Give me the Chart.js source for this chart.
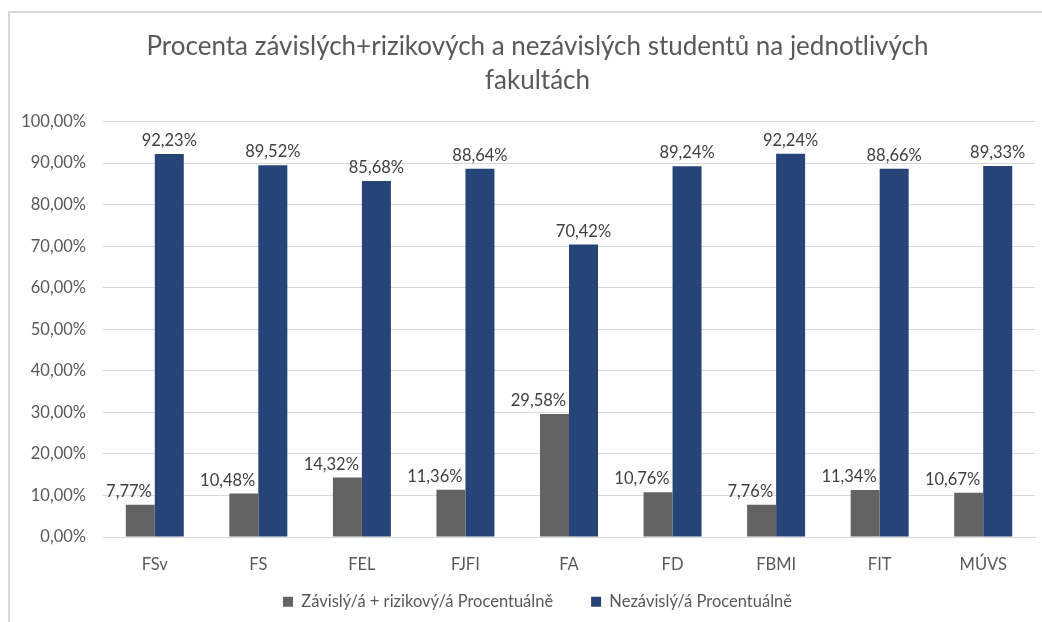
<!DOCTYPE html>
<html lang="cs">
<head>
  <meta charset="UTF-8">
  <title>Procenta závislých+rizikových a nezávislých studentů</title>
  <script src="https://cdn.jsdelivr.net/npm/chart.js"></script>
  <style>
    html, body { margin: 0; padding: 0; background: #fff; }
    #wrap { width: 1042px; height: 622px; position: relative; }
  </style>
</head>
<body>
  <div id="wrap">
    <canvas id="fakultyChart" width="1042" height="622"></canvas>
  </div>

  <script>
    // Data
    const fakulty = ['FSv', 'FS', 'FEL', 'FJFI', 'FA', 'FD', 'FBMI', 'FIT', 'MÚVS'];
    const zavisliRizikovi = [7.77, 10.48, 14.32, 11.36, 29.58, 10.76, 7.76, 11.34, 10.67];
    const nezavisli = [92.23, 89.52, 85.68, 88.64, 70.42, 89.24, 92.24, 88.66, 89.33];
    const nazvySerii = ['Závislý/á + rizikový/á Procentuálně', 'Nezávislý/á Procentuálně'];
    const titulek = ['Procenta závislých+rizikových a nezávislých studentů na jednotlivých', 'fakultách'];

    const pismo = 'Lato, "Open Sans", sans-serif';
    const velikost = 16.5;

    const formatProcent = v => v.toFixed(2).replace('.', ',') + '%';

    // popisky osy se nemají ořezávat podle velikosti boxu osy
    const bezOrezu = scale => { scale._computeLabelArea = () => undefined; };

    // popisky hodnot nad sloupci
    // (šedé popisky jsou posunuté doleva, aby nezasahovaly do modrého sloupce)
    const popiskyPlugin = {
      id: 'popisky',
      afterDatasetsDraw(chart) {
        const ctx = chart.ctx;
        const modre = chart.getDatasetMeta(1).data;
        ctx.save();
        ctx.font = velikost + 'px ' + pismo;
        ctx.fillStyle = '#404040';
        ctx.textAlign = 'center';
        ctx.textBaseline = 'bottom';
        chart.data.datasets.forEach((ds, i) => {
          chart.getDatasetMeta(i).data.forEach((bar, j) => {
            const txt = formatProcent(ds.data[j]);
            let x = bar.x;
            if (i === 0) {
              const pravy = modre[j].x - modre[j].width / 2 - 3;
              x = Math.min(bar.x, pravy - ctx.measureText(txt).width / 2);
            }
            ctx.fillText(txt, x, bar.y - 5);
          });
        });
        ctx.restore();
      }
    };

    // rámeček grafu (jen levá a horní hrana je vidět)
    const ramecekPlugin = {
      id: 'ramecek',
      beforeDraw(chart) {
        const ctx = chart.ctx;
        ctx.save();
        ctx.strokeStyle = '#d9d9d9';
        ctx.lineWidth = 2;
        ctx.beginPath();
        ctx.moveTo(9, 622);
        ctx.lineTo(9, 12);
        ctx.lineTo(1042, 12);
        ctx.stroke();
        ctx.restore();
      }
    };

    const ctx = document.getElementById('fakultyChart').getContext('2d');
    new Chart(ctx, {
      type: 'bar',
      data: {
        labels: fakulty,
        datasets: [
          { label: nazvySerii[0], data: zavisliRizikovi, backgroundColor: '#636363' },
          { label: nazvySerii[1], data: nezavisli, backgroundColor: '#264478' }
        ]
      },
      options: {
        responsive: false,
        animation: false,
        layout: { padding: { left: 40, right: 7, top: 0, bottom: 2 } },
        datasets: { bar: { barPercentage: 1, categoryPercentage: 0.56 } },
        plugins: {
          title: {
            display: true,
            text: titulek,
            color: '#595959',
            font: { family: pismo, size: 26, weight: 'normal', lineHeight: 1.3 },
            padding: { top: 30, bottom: 24 }
          },
          legend: {
            position: 'bottom',
            labels: {
              color: '#595959',
              font: { family: pismo, size: velikost },
              boxWidth: 10,
              boxHeight: 10,
              padding: 38
            }
          },
          tooltip: { enabled: false }
        },
        scales: {
          x: {
            grid: { display: false },
            border: { color: '#d9d9d9' },
            ticks: { color: '#595959', font: { family: pismo, size: velikost }, padding: 10 },
            afterFit(scale) { scale.height = 18.5; bezOrezu(scale); }
          },
          y: {
            min: 0,
            max: 100,
            ticks: {
              stepSize: 10,
              color: '#595959',
              font: { family: pismo, size: velikost },
              padding: 17,
              callback: v => formatProcent(v)
            },
            grid: { color: '#d9d9d9', drawTicks: false },
            border: { display: false },
            afterFit(scale) { scale.width = 63; bezOrezu(scale); }
          }
        }
      },
      plugins: [popiskyPlugin, ramecekPlugin]
    });
  </script>
</body>
</html>
